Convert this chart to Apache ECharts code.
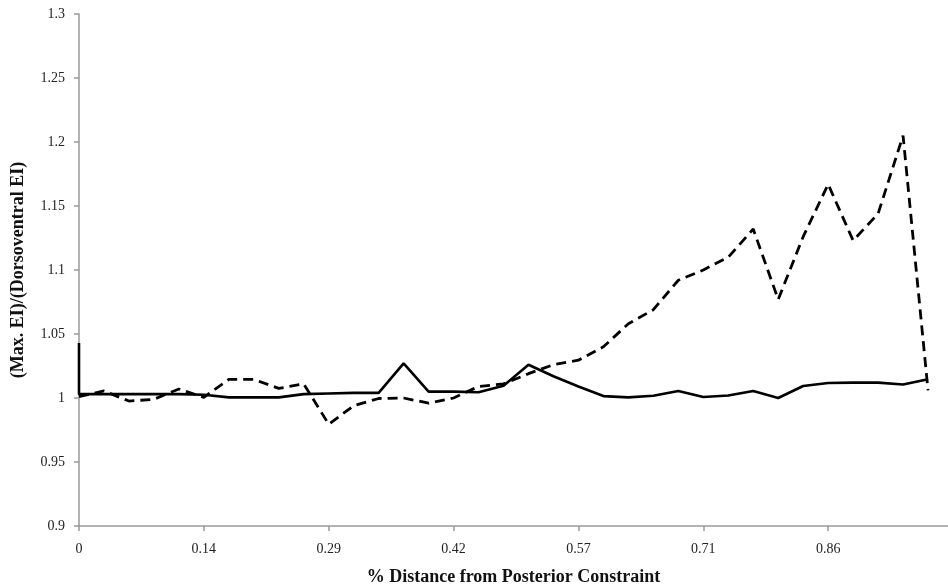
<!DOCTYPE html>
<html lang="en">
  <head>
    <meta charset="UTF-8" />
    <title>EI ratio vs distance</title>
    <script src="https://cdn.jsdelivr.net/npm/echarts@6/dist/echarts.min.js"></script>
    <style>
      html, body { margin: 0; padding: 0; background: #fff; }
      #chart { width: 948px; height: 588px; }
    </style>
  </head>
  <body>
    <div id="chart"></div>
    <script>
      // x tick labels, one every 5 sampling positions
      var xLabels = ['0', '0.14', '0.29', '0.42', '0.57', '0.71', '0.86'];
      var yTicks = ['0.9', '0.95', '1', '1.05', '1.1', '1.15', '1.2', '1.25', '1.3'];

      // solid line starts with a short drop at x = 0
      var solidStart = 1.043;
      var solid = [1.003, 1.003, 1.003, 1.003, 1.003, 1.0025, 1.0005, 1.0005, 1.0005, 1.003,
                   1.0035, 1.004, 1.004, 1.027, 1.005, 1.005, 1.0045, 1.0095, 1.026, 1.017,
                   1.009, 1.0015, 1.0005, 1.0018, 1.0055, 1.0008, 1.0019, 1.0055, 1.0, 1.0094,
                   1.0117, 1.012, 1.012, 1.0105, 1.0147];
      var dashed = [1.001, 1.0055, 0.9976, 0.999, 1.007, 1.0005, 1.0145, 1.0145, 1.0075, 1.011,
                    0.9795, 0.994, 0.9996, 1.0, 0.996, 1.0, 1.009, 1.011, 1.019, 1.026,
                    1.0295, 1.04, 1.058, 1.069, 1.092, 1.10, 1.11, 1.132, 1.077, 1.126,
                    1.167, 1.123, 1.144, 1.205, 1.006];

      var solidData = [[0, solidStart]].concat(solid.map(function (v, i) { return [i, v]; }));
      var dashedData = dashed.map(function (v, i) { return [i, v]; });

      var chart = echarts.init(document.getElementById('chart'));
      var serif = '"Liberation Serif", "DejaVu Serif", serif';
      chart.setOption({
        animation: false,
        grid: { left: 79, right: 0, top: 14, bottom: 62, outerBoundsMode: 'none', containLabel: false },
        xAxis: {
          type: 'value',
          min: 0,
          max: 34.8,
          interval: 5,
          name: '% Distance from Posterior Constraint',
          nameLocation: 'middle',
          nameGap: 42,
          nameTextStyle: { fontFamily: serif, fontWeight: 'bold', fontSize: 18, color: '#111' },
          axisLine: { lineStyle: { color: '#999', width: 1.5 } },
          axisTick: { length: 5, lineStyle: { color: '#999', width: 1.5 } },
          axisLabel: {
            margin: 16,
            fontFamily: serif,
            fontSize: 14,
            color: '#222',
            showMaxLabel: false,
            formatter: function (v) { return xLabels[v / 5] || ''; }
          },
          splitLine: { show: false }
        },
        yAxis: {
          type: 'value',
          min: 0.9,
          max: 1.3,
          interval: 0.05,
          name: '(Max. EI)/(Dorsoventral EI)',
          nameLocation: 'middle',
          nameGap: 52,
          nameTextStyle: { fontFamily: serif, fontWeight: 'bold', fontSize: 18, color: '#111' },
          axisLine: { show: true, lineStyle: { color: '#999', width: 1.5 } },
          axisTick: { show: true, length: 5, lineStyle: { color: '#999', width: 1.5 } },
          axisLabel: {
            margin: 14,
            fontFamily: serif,
            fontSize: 14,
            color: '#222',
            formatter: function (v) { return yTicks[Math.round((v - 0.9) / 0.05)]; }
          },
          splitLine: { show: false }
        },
        series: [
          {
            type: 'line',
            data: dashedData,
            symbol: 'none',
            lineStyle: { color: '#000', width: 2.8, type: [10, 6] }
          },
          {
            type: 'line',
            data: solidData,
            symbol: 'none',
            lineStyle: { color: '#000', width: 2.6 }
          }
        ]
      });
    </script>
  </body>
</html>
